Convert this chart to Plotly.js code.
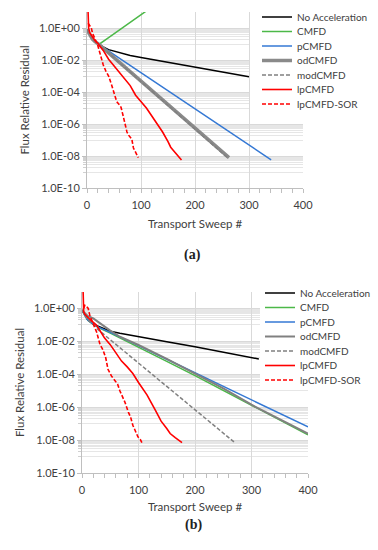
<!DOCTYPE html>
<html><head><meta charset="utf-8">
<script src="https://cdn.plot.ly/plotly-3.0.1.min.js"></script>
<style>html,body{margin:0;padding:0;background:#fff}#chart{width:378px;height:550px}</style>
</head><body><div id="chart"></div><script>
// ---------- labels ----------
const seriesNames = ['No Acceleration','CMFD','pCMFD','odCMFD','modCMFD','lpCMFD','lpCMFD-SOR'];
const yTickVals = [1e0,1e-2,1e-4,1e-6,1e-8,1e-10];
const yTickText = ['1.0E+00','1.0E-02','1.0E-04','1.0E-06','1.0E-08','1.0E-10'];
const xTickVals = [0,100,200,300,400];
const xTitle = 'Transport Sweep #';
const yTitle = 'Flux Relative Residual';
const panelLabels = ['(a)','(b)'];

// ---------- panel (a) ----------
const aNoAccX = [0,5,10,15,20,30,40,60,80,100,150,200,250,300];
const aNoAccY = [7.94e-1,3.55e-1,2.0e-1,1.41e-1,1.05e-1,6.61e-2,4.47e-2,2.82e-2,1.91e-2,1.41e-2,7.08e-3,3.55e-3,1.78e-3,8.91e-4];
const aCmfdX = [0,5,10,15,22,40,60,80,100,110];
const aCmfdY = [7.94e-1,3.55e-1,2.0e-1,1.41e-1,9.33e-2,2.51e-1,7.41e-1,2.24,6.76,11.7];
const aPcmfdX = [0,5,10,15,22,50,100,150,200,250,300,341];
const aPcmfdY = [7.94e-1,3.55e-1,2.0e-1,1.41e-1,9.33e-2,2.19e-2,1.62e-3,1.20e-4,8.91e-6,6.61e-7,4.90e-8,5.75e-9];
const aOdX = [0,5,10,15,22,50,100,150,200,263];
const aOdY = [7.94e-1,3.55e-1,2.0e-1,1.41e-1,9.33e-2,1.41e-2,4.79e-4,1.62e-5,5.50e-7,7.94e-9];
const aModX = [0,5,10,15,22,50,100,150,200,260];
const aModY = [7.94e-1,3.55e-1,2.0e-1,1.41e-1,9.33e-2,1.35e-2,4.47e-4,1.48e-5,5.01e-7,7.94e-9];
const aLpX = [2,3,5,10,15,20,25,30,40,50,60,70,80,90,100,110,120,130,140,150,155,160,165,170,175];
const aLpY = [10,1.0,5.01e-1,2.82e-1,1.58e-1,1.12e-1,7.08e-2,3.98e-2,1.12e-2,4.47e-3,1.78e-3,6.31e-4,2.51e-4,6.31e-5,2.51e-5,1.0e-5,3.16e-6,1.0e-6,3.16e-7,7.94e-8,3.55e-8,2.24e-8,1.41e-8,8.91e-9,5.62e-9];
const aSorX = [2,4,6,8,10,13,16,20,25,30,35,40,45,50,55,60,63,67,70,74,77,80,83,86,89,92,95];
const aSorY = [2.0,1.58,1.41,1.0,5.01e-1,2.82e-1,1.58e-1,7.94e-2,2.0e-2,5.01e-3,2.0e-3,1.0e-3,3.16e-4,7.94e-5,2.51e-5,1.58e-5,1.12e-5,3.16e-6,1.0e-6,3.16e-7,2.0e-7,1.41e-7,1.12e-7,3.16e-8,2.0e-8,1.26e-8,7.94e-9];

// ---------- panel (b) ----------
const bNoAccX = [0,5,10,20,30,40,50,67,100,150,200,250,313];
const bNoAccY = [7.94e-1,3.55e-1,2.0e-1,1.12e-1,7.94e-2,5.62e-2,4.17e-2,3.16e-2,1.91e-2,9.55e-3,4.68e-3,2.19e-3,8.51e-4];
const bCmfdX = [0,5,10,20,30,50,67,100,150,200,250,300,350,400];
const bCmfdY = [7.94e-1,3.55e-1,2.0e-1,1.07e-1,6.61e-2,3.16e-2,1.58e-2,4.17e-3,6.03e-4,8.32e-5,1.05e-5,1.32e-6,1.66e-7,2.09e-8];
const bPcmfdX = [0,5,10,20,30,50,67,100,150,200,250,300,350,400];
const bPcmfdY = [7.94e-1,3.55e-1,2.0e-1,1.12e-1,7.08e-2,3.55e-2,1.91e-2,5.50e-3,8.13e-4,1.23e-4,1.86e-5,2.75e-6,4.17e-7,6.31e-8];
const bOdX = [0,5,10,20,30,40,50,67,100,150,200,250,300,350,400];
const bOdY = [7.94e-1,5.01e-1,3.55e-1,2.51e-1,1.41e-1,7.94e-2,4.47e-2,1.91e-2,6.03e-3,8.71e-4,1.12e-4,1.41e-5,1.41e-6,1.78e-7,2.51e-8];
const bModX = [0,5,10,20,28,50,100,150,200,250,271];
const bModY = [7.94e-1,3.55e-1,2.0e-1,1.12e-1,5.25e-2,1.26e-2,4.68e-4,1.78e-5,7.08e-7,2.69e-8,6.76e-9];
const bLpX = [2,3,5,10,15,20,25,30,40,50,60,70,80,90,100,115,130,140,150,156,165,177];
const bLpY = [10,6.31e-1,4.47e-1,2.82e-1,2.0e-1,1.41e-1,1.0e-1,5.62e-2,1.58e-2,6.31e-3,2.0e-3,6.31e-4,2.82e-4,1.12e-4,3.16e-5,5.62e-6,6.31e-7,1.41e-7,5.01e-8,2.51e-8,1.41e-8,7.08e-9];
const bSorX = [3,5,8,11,14,20,26,32,37,42,46,52,58,63,67,72,76,82,86,90,95,99,103,106];
const bSorY = [1.0,1.58,1.32,1.0,3.55e-1,1.26e-1,3.55e-2,6.31e-3,3.16e-3,1.0e-3,2.0e-4,7.94e-5,4.47e-5,2.51e-5,1.0e-5,3.98e-6,2.0e-6,5.01e-7,2.51e-7,7.94e-8,3.16e-8,1.58e-8,1.12e-8,7.08e-9];

// ---------- styles ----------
const FONT = 'Lato, "Open Sans", sans-serif';
const TXT = '#404040';
const styles = [
  {color:'#000000', width:1.5},
  {color:'#4cb848', width:1.5},
  {color:'#3478d4', width:1.5},
  {color:'#808080', width:2},
  {color:'#808080', width:1.5, dash:'4px,2px'},
  {color:'#ff0000', width:1.6},
  {color:'#ff0000', width:1.6, dash:'4px,2px'}
];

function mk(x, y, i, xa, ya, leg, over) {
  const line = Object.assign({}, styles[i], over || {});
  return {x:x, y:y, name:seriesNames[i], type:'scatter', mode:'lines',
          line:line, xaxis:xa, yaxis:ya, legend:leg, hoverinfo:'skip'};
}

const data = [
  mk(aNoAccX,aNoAccY,0,'x','y','legend'),
  mk(aCmfdX,aCmfdY,1,'x','y','legend'),
  mk(aPcmfdX,aPcmfdY,2,'x','y','legend'),
  mk(aOdX,aOdY,3,'x','y','legend',{width:3.5, color:'#8a8a8a'}),
  mk(aModX,aModY,4,'x','y','legend'),
  mk(aLpX,aLpY,5,'x','y','legend'),
  mk(aSorX,aSorY,6,'x','y','legend'),
  mk(bNoAccX,bNoAccY,0,'x2','y2','legend2'),
  mk(bCmfdX,bCmfdY,1,'x2','y2','legend2'),
  mk(bPcmfdX,bPcmfdY,2,'x2','y2','legend2'),
  mk(bOdX,bOdY,3,'x2','y2','legend2'),
  mk(bModX,bModY,4,'x2','y2','legend2'),
  mk(bLpX,bLpY,5,'x2','y2','legend2'),
  mk(bSorX,bSorY,6,'x2','y2','legend2')
];

// minor gridlines: the decade just below each labelled decade
const minorVals = [];
[-1,-3,-5,-7,-9].forEach(e => { for (let k = 1; k <= 9; k++) minorVals.push(k * Math.pow(10, e)); });

function yAxis(domain, anchor) {
  return {domain:domain, anchor:anchor, type:'log', range:[-10,1],
    tickmode:'array', tickvals:yTickVals, ticktext:yTickText,
    showgrid:true, gridcolor:'#d9d9d9', gridwidth:1,
    showline:true, linecolor:'#bfbfbf', linewidth:1,
    ticks:'outside', ticklen:4, tickcolor:'#bfbfbf',
    minor:{tickmode:'array', tickvals:minorVals, showgrid:true, gridcolor:'#e6e6e6', gridwidth:1,
           ticks:'outside', ticklen:3, tickcolor:'#d0d0d0'},
    tickfont:{family:FONT, size:11, color:TXT},
    title:{text:yTitle, font:{family:FONT, size:11.5, color:TXT}, standoff:6},
    automargin:false, fixedrange:true};
}
function xAxis(domain, anchor, standoff) {
  return {domain:domain, anchor:anchor, range:[0,400],
    tickmode:'array', tickvals:xTickVals,
    showgrid:true, gridcolor:'#d9d9d9', gridwidth:1, zeroline:false,
    showline:true, linecolor:'#bfbfbf', linewidth:1,
    ticks:'outside', ticklen:4, tickcolor:'#bfbfbf', ticklabelstandoff:3,
    minor:{dtick:20, ticks:'outside', ticklen:4, tickcolor:'#bfbfbf', showgrid:false},
    tickfont:{family:FONT, size:11, color:TXT},
    title:{text:xTitle, font:{family:FONT, size:11.5, color:TXT}, standoff:standoff},
    automargin:false, fixedrange:true};
}
function legendCfg(xpx, ypx) {
  return {x:xpx/378, y:1-ypx/550, xanchor:'left', yanchor:'top', bgcolor:'#ffffff',
          borderwidth:0, font:{family:FONT, size:10, color:TXT}, traceorder:'normal'};
}

const layout = {
  width:378, height:550, margin:{l:0,r:0,t:0,b:0},
  paper_bgcolor:'#ffffff', plot_bgcolor:'#ffffff', showlegend:true,
  xaxis: xAxis([87/378, 303/378], 'y', 9),
  yaxis: yAxis([1-188/550, 1-12/550], 'x'),
  xaxis2: xAxis([82/378, 308/378], 'y2', 7),
  yaxis2: yAxis([1-473/550, 1-292/550], 'x2'),
  legend: legendCfg(250, 4),
  legend2: legendCfg(260, 281),
  annotations: [
    {text:panelLabels[0], xref:'paper', yref:'paper', x:192/378, y:1-255/550, showarrow:false,
     font:{family:'"Liberation Serif", serif', size:14, color:'#222'}},
    {text:panelLabels[1], xref:'paper', yref:'paper', x:193/378, y:1-535/550, showarrow:false,
     font:{family:'"Liberation Serif", serif', size:14, color:'#222'}}
  ]
};
layout.annotations.forEach(a => { a.text = '<b>' + a.text + '</b>'; });

// Legend rows in the reference are tighter than Plotly's minimum row height;
// re-space the rendered legend rows afterwards.
const legendTweaks = {legend:{dx:7, top:13, step:14.5, h:107}, legend2:{dx:0, top:12, step:14.5, h:108}};
Plotly.newPlot('chart', data, layout, {staticPlot:true, displayModeBar:false}).then(gd => {
  Object.keys(legendTweaks).forEach(id => {
    const t = legendTweaks[id];
    const lg = gd.querySelector('g.' + id);
    if (!lg) return;
    lg.querySelectorAll('[clip-path]').forEach(el => el.removeAttribute('clip-path'));
    const items = lg.querySelectorAll('g.traces');
    items.forEach((it, i) => {
      const m = /translate\(\s*([-\d.]+)[ ,]+([-\d.]+)\s*\)/.exec(it.getAttribute('transform') || '');
      const x0 = m ? parseFloat(m[1]) : 0;
      it.setAttribute('transform', 'translate(' + (x0 + t.dx) + ',' + (t.top + i * t.step) + ')');
    });
    const bg = lg.querySelector('rect.bg');
    if (bg) {
      bg.setAttribute('height', t.h);
      const w = parseFloat(bg.getAttribute('width')) || 110;
      bg.setAttribute('width', w + t.dx);
    }
  });
});
</script></body></html>
